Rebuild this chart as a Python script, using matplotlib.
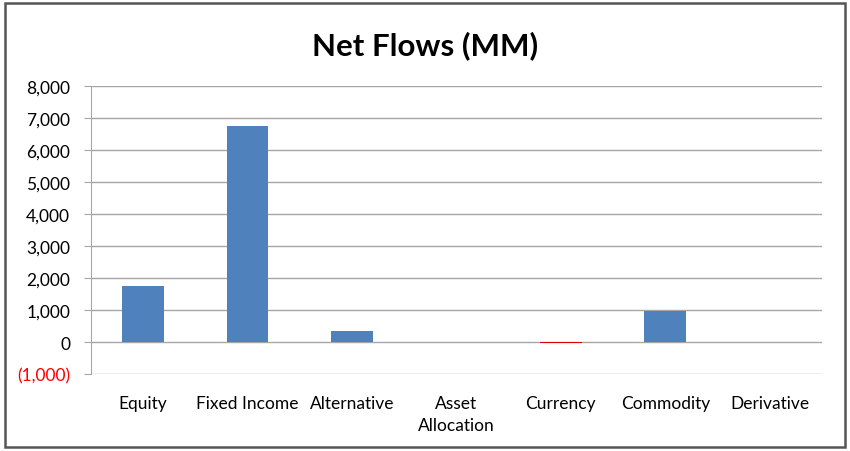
import matplotlib
matplotlib.use("Agg")
import matplotlib.pyplot as plt
from matplotlib.patches import Rectangle
from matplotlib.ticker import FuncFormatter

categories = ["Equity", "Fixed Income", "Alternative", "Asset\nAllocation",
              "Currency", "Commodity", "Derivative"]
net_flows = [1750, 6750, 350, 0, -30, 980, 0]

plt.rcParams['font.family'] = ['Lato', 'DejaVu Sans']

fig = plt.figure(figsize=(8.5, 4.52), dpi=100)
ax = fig.add_axes([0.107, 0.170, 0.860, 0.638])

# Outer chart border
fig.patches.append(Rectangle((0.006, 0.009), 0.988, 0.982, transform=fig.transFigure,
                             fill=False, edgecolor='#555555', linewidth=1.8))

x = range(len(categories))
colors = ['#4F81BD' if v >= 0 else '#E00000' for v in net_flows]
ax.bar(x, net_flows, width=0.4, color=colors, zorder=3)

ax.set_xlim(-0.5, len(categories) - 0.5)
ax.set_ylim(-1000, 8000)
ax.set_yticks(range(-1000, 8001, 1000))


def fmt(v, pos):
    if v < 0:
        return "({:,.0f})".format(-v)
    return "{:,.0f}".format(v)


ax.yaxis.set_major_formatter(FuncFormatter(fmt))
for lab in ax.get_yticklabels():
    if lab.get_text().startswith("("):
        lab.set_color('#FF0000')

ax.grid(axis='y', color='#A6A6A6', linewidth=1.0, zorder=0)
ax.set_xticks(list(x))
ax.set_xticklabels(categories, fontsize=12.5, linespacing=1.45)
ax.tick_params(axis='x', length=0, pad=15)
ax.tick_params(axis='y', length=5, color='#A6A6A6', labelsize=12.5, pad=10)

for side in ['top', 'right', 'bottom']:
    ax.spines[side].set_visible(False)
ax.spines['left'].set_color('#A6A6A6')

fig.text(0.5, 0.898, "Net Flows (MM)", ha='center', va='center',
         fontsize=22.5, fontweight='bold')

fig.savefig("out.png", dpi=100)
